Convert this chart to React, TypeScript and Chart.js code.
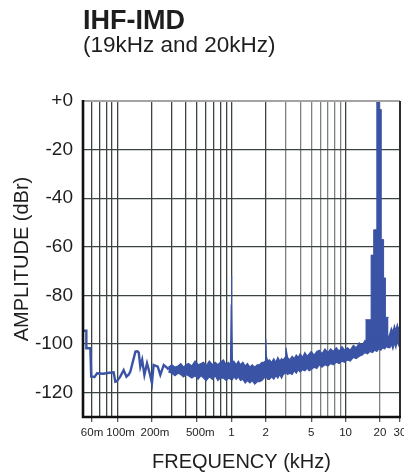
import React, { useEffect, useRef } from "react";
import { Chart, registerables } from "chart.js";

Chart.register(...registerables);

const TITLE = "IHF-IMD";
const SUBTITLE = "(19kHz and 20kHz)";
const X_TITLE = "FREQUENCY (kHz)";
const Y_TITLE = "AMPLITUDE (dBr)";

// Low-frequency part of the trace (single line), kHz / dBr
const lowFreq = [
  0.05, 0.0535, 0.0535, 0.058, 0.059, 0.0612, 0.063, 0.0664, 0.075, 0.085,
  0.0928, 0.096, 0.099, 0.106, 0.1136, 0.12, 0.126, 0.13, 0.144, 0.15,
  0.154, 0.159, 0.165, 0.1726, 0.182, 0.192, 0.201, 0.208, 0.226, 0.238,
  0.255, 0.276, 0.28,
];
const lowAmp = [
  -94.5, -94.5, -101.7, -101.7, -113.4, -113.4, -113.6, -112, -112.2, -111.8,
  -111.6, -115.5, -115.3, -113.4, -110.7, -113.4, -112.5, -111.3, -103.1, -103,
  -103.5, -109.3, -106.5, -112.7, -107.9, -112, -116.1, -108.6, -109.3, -112.7,
  -108.6, -110, -110.5,
];

// Noise floor band (upper / lower envelope) with the 1k, 2k, 3k spurs
const bandFreq = [
  0.28, 0.3, 0.32, 0.34, 0.36, 0.38, 0.4, 0.42, 0.45, 0.48,
  0.51, 0.54, 0.57, 0.6, 0.64, 0.68, 0.72, 0.76, 0.8, 0.85,
  0.9, 0.94, 0.98, 0.995, 1.0, 1.005, 1.02, 1.05, 1.1, 1.15,
  1.2, 1.26, 1.32, 1.38, 1.45, 1.52, 1.6, 1.68, 1.76, 1.85,
  1.93, 1.98, 2.0, 2.02, 2.08, 2.15, 2.25, 2.35, 2.45, 2.55,
  2.65, 2.75, 2.85, 2.95, 3.0, 3.1, 3.25, 3.4, 3.55, 3.7,
  3.85, 4.0, 4.2, 4.4, 4.6, 4.8, 5.0, 5.3, 5.6, 5.9,
  6.2, 6.6, 7.0, 7.4, 7.8, 8.3, 8.8, 9.3, 9.8, 10.4,
  11.0, 11.7, 12.4, 13.2, 14.0, 14.8, 15.6, 16.4, 17.2, 18.0,
  18.8, 19.6, 20.4, 21.2, 22.0, 22.8, 23.6, 24.5, 25.2, 26.0,
  26.8, 27.6, 28.4, 29.2, 30.0,
];
const bandUpper = [
  -109.5, -108.5, -109.5, -109.0, -108.0, -109.5, -108.5, -108.0, -109.0, -107.0,
  -108.5, -108.0, -107.5, -109.0, -107.0, -108.5, -107.5, -108.5, -107.5, -106.5,
  -108.5, -107.5, -108.5, -84.0, -72.0, -84.0, -107.5, -107.0, -108.5, -107.0,
  -108.5, -107.5, -109.0, -108.0, -109.5, -108.5, -109.5, -108.5, -108.5, -107.5,
  -107.5, -107.0, -98.0, -105.0, -107.0, -106.5, -107.5, -106.0, -107.5, -105.5,
  -107.0, -106.0, -106.5, -105.5, -101.5, -105.5, -106.5, -105.0, -106.0, -104.5,
  -105.5, -104.0, -105.5, -103.5, -105.0, -104.0, -103.0, -104.5, -103.0, -102.5,
  -104.0, -102.0, -103.5, -102.0, -103.0, -101.5, -103.0, -101.0, -102.5, -101.5,
  -102.5, -100.5, -101.5, -99.5, -100.5, -98.5, -99.5, -98.0, -99.0, -98.0,
  -98.5, -97.5, -98.5, -97.0, -98.0, -96.5, -97.5, -95.5, -93.5, -95.0,
  -92.5, -94.5, -92.0, -94.0, -92.5,
];
const bandLower = [
  -111.5, -112.0, -113.0, -112.0, -112.5, -113.5, -112.5, -113.0, -114.0, -113.0,
  -114.5, -113.0, -114.0, -115.0, -113.5, -114.5, -113.0, -115.0, -114.0, -114.0,
  -115.0, -114.0, -114.5, -113.5, -112.5, -113.5, -114.5, -113.5, -114.5, -113.5,
  -115.0, -114.5, -116.0, -115.0, -116.0, -115.0, -116.5, -115.5, -115.5, -115.0,
  -114.0, -113.5, -112.5, -113.5, -114.5, -114.5, -113.5, -114.5, -113.0, -114.0,
  -112.5, -114.0, -112.5, -112.0, -111.5, -112.5, -112.0, -112.5, -111.0, -112.0,
  -110.5, -111.5, -110.5, -111.0, -110.0, -111.0, -110.5, -109.5, -110.0, -108.5,
  -109.5, -108.5, -109.0, -108.0, -108.5, -107.5, -108.0, -107.0, -107.5, -106.5,
  -107.0, -105.5, -106.0, -105.0, -104.5, -103.5, -104.0, -103.0, -103.5, -102.5,
  -103.0, -102.0, -102.5, -101.5, -102.0, -101.0, -101.5, -101.5, -100.0, -102.0,
  -99.5, -101.5, -98.5, -100.5, -99.0,
];

// 19 kHz + 20 kHz tones and their IMD products (step levels, each held until the next frequency)
const peakFreq = [14.9, 16.75, 17.65, 18.8, 19.75, 20.55, 21.55, 22.35, 23.8];
const peakAmp = [-90, -63.4, -53, 0, -3.5, -57, -72.8, -89, -89];
const PEAK_BASE = -101;

const xTickValues = [
  0.05, 0.06, 0.07, 0.08, 0.09, 0.1, 0.2, 0.3, 0.4, 0.5, 0.6, 0.7, 0.8, 0.9,
  1, 2, 3, 4, 5, 6, 7, 8, 9, 10, 20, 30,
];
const xTickLabels = [
  "", "60m", "", "", "", "  100m", "  200m", "", "", "  500m", "", "", "", "",
  "1", "2", "", "", "5", "", "", "", "", "10", "20", "30",
];
const xLightGrid = [3, 4, 5, 6, 7, 8, 9, 20];

const yTickValues = [-120, -100, -80, -60, -40, -20, 0];
const yTickLabels = ["-120", "-100", "-80", "-60", "-40", "-20", "+0"];

const BLUE = "rgb(58, 83, 164)";
const FONT = "'Liberation Sans', Arial, Helvetica, sans-serif";
const TEXT = "#1e1e1e";

const framePlugin = {
  id: "frameAndTexts",
  afterDraw(chart: any) {
    const { ctx, chartArea } = chart;
    const { left, right, top, bottom } = chartArea;
    ctx.save();
    ctx.strokeStyle = "#a4a4a4";
    ctx.lineWidth = 2;
    ctx.beginPath();
    ctx.moveTo(left, top);
    ctx.lineTo(right, top);
    ctx.stroke();
    ctx.strokeStyle = "#2c2c2c";
    ctx.lineWidth = 2;
    ctx.beginPath();
    ctx.moveTo(right, top);
    ctx.lineTo(right, bottom);
    ctx.stroke();
    ctx.strokeStyle = "#111";
    ctx.lineWidth = 2.6;
    ctx.beginPath();
    ctx.moveTo(left, top - 1);
    ctx.lineTo(left, bottom);
    ctx.lineTo(right + 1, bottom);
    ctx.stroke();

    ctx.fillStyle = TEXT;
    ctx.textAlign = "left";
    ctx.textBaseline = "alphabetic";
    ctx.font = `bold 27px ${FONT}`;
    ctx.fillText(TITLE, left, 28.5);
    ctx.font = `22.5px ${FONT}`;
    ctx.fillText(SUBTITLE, left, 51.5);

    ctx.font = `20px ${FONT}`;
    ctx.textAlign = "center";
    ctx.textBaseline = "middle";
    ctx.fillText(X_TITLE, (left + right) / 2, 462);
    ctx.save();
    ctx.translate(22, (top + bottom) / 2);
    ctx.rotate(-Math.PI / 2);
    ctx.fillText(Y_TITLE, 0, 0);
    ctx.restore();
    ctx.restore();
  },
};

export default function App() {
  const canvasRef = useRef<HTMLCanvasElement | null>(null);

  useEffect(() => {
    const canvas = canvasRef.current;
    if (!canvas) return;

    const upperPts = bandFreq.map((f, i) => ({ x: f, y: bandUpper[i] }));
    const lowerPts = bandFreq.map((f, i) => ({ x: f, y: bandLower[i] }));
    const lowPts = lowFreq.map((f, i) => ({ x: f, y: lowAmp[i] }));
    const peakPts = peakFreq.map((f, i) => ({ x: f, y: peakAmp[i] }));

    const common = {
      borderColor: BLUE,
      backgroundColor: BLUE,
      pointRadius: 0,
      tension: 0,
    };

    const chart = new Chart(canvas, {
      type: "line",
      data: {
        datasets: [
          { ...common, data: upperPts, borderWidth: 1.2, fill: "+1" },
          { ...common, data: lowerPts, borderWidth: 1.2, fill: false },
          { ...common, data: lowPts, borderWidth: 2.4, fill: false },
          {
            ...common,
            data: peakPts,
            borderWidth: 1,
            stepped: true,
            fill: { target: { value: PEAK_BASE } },
          },
        ],
      },
      options: {
        responsive: false,
        animation: false,
        events: [],
        layout: { padding: { top: 101, right: 4, left: 0, bottom: 0 } },
        plugins: {
          legend: { display: false },
          tooltip: { enabled: false },
          title: { display: false },
        },
        scales: {
          x: {
            type: "logarithmic",
            min: 0.05,
            max: 30,
            afterBuildTicks: (s: any) => {
              s.ticks = xTickValues.map((v) => ({ value: v }));
            },
            afterFit: (s: any) => {
              s.height = 59;
              s.paddingLeft = 0;
              s.paddingRight = 0;
            },
            border: { display: false },
            grid: {
              lineWidth: 1.3,
              color: (c: any) => {
                const v = c.tick ? c.tick.value : 0;
                if (v === 0.05) return "rgba(0,0,0,0)";
                return xLightGrid.includes(v) ? "#7d8281" : "#3c4442";
              },
              tickLength: 5,
              tickColor: (c: any) =>
                xTickLabels[c.index] ? "#555" : "rgba(0,0,0,0)",
            },
            ticks: {
              autoSkip: false,
              maxRotation: 0,
              minRotation: 0,
              padding: 4,
              color: TEXT,
              font: { size: 11.5, family: FONT },
              callback: (_v: any, i: number) => xTickLabels[i],
            },
          },
          y: {
            type: "linear",
            min: -130,
            max: 0,
            afterBuildTicks: (s: any) => {
              s.ticks = yTickValues.map((v) => ({ value: v }));
            },
            afterFit: (s: any) => {
              s.width = 83;
              s.paddingTop = 0;
              s.paddingBottom = 0;
            },
            border: { display: false },
            grid: {
              lineWidth: 1.3,
              drawTicks: false,
              color: (c: any) =>
                c.tick && c.tick.value === 0 ? "rgba(0,0,0,0)" : "#3c4442",
            },
            ticks: {
              padding: 10,
              color: TEXT,
              font: { size: 19, family: FONT },
              callback: (_v: any, i: number) => yTickLabels[i],
            },
          },
        },
      },
      plugins: [framePlugin],
    } as any);

    return () => chart.destroy();
  }, []);

  return (
    <div
      style={{
        position: "fixed",
        left: 0,
        top: 0,
        width: 404,
        height: 476,
        background: "#fff",
      }}
    >
      <canvas
        ref={canvasRef}
        width={404}
        height={476}
        style={{ width: 404, height: 476, display: "block" }}
      />
    </div>
  );
}
